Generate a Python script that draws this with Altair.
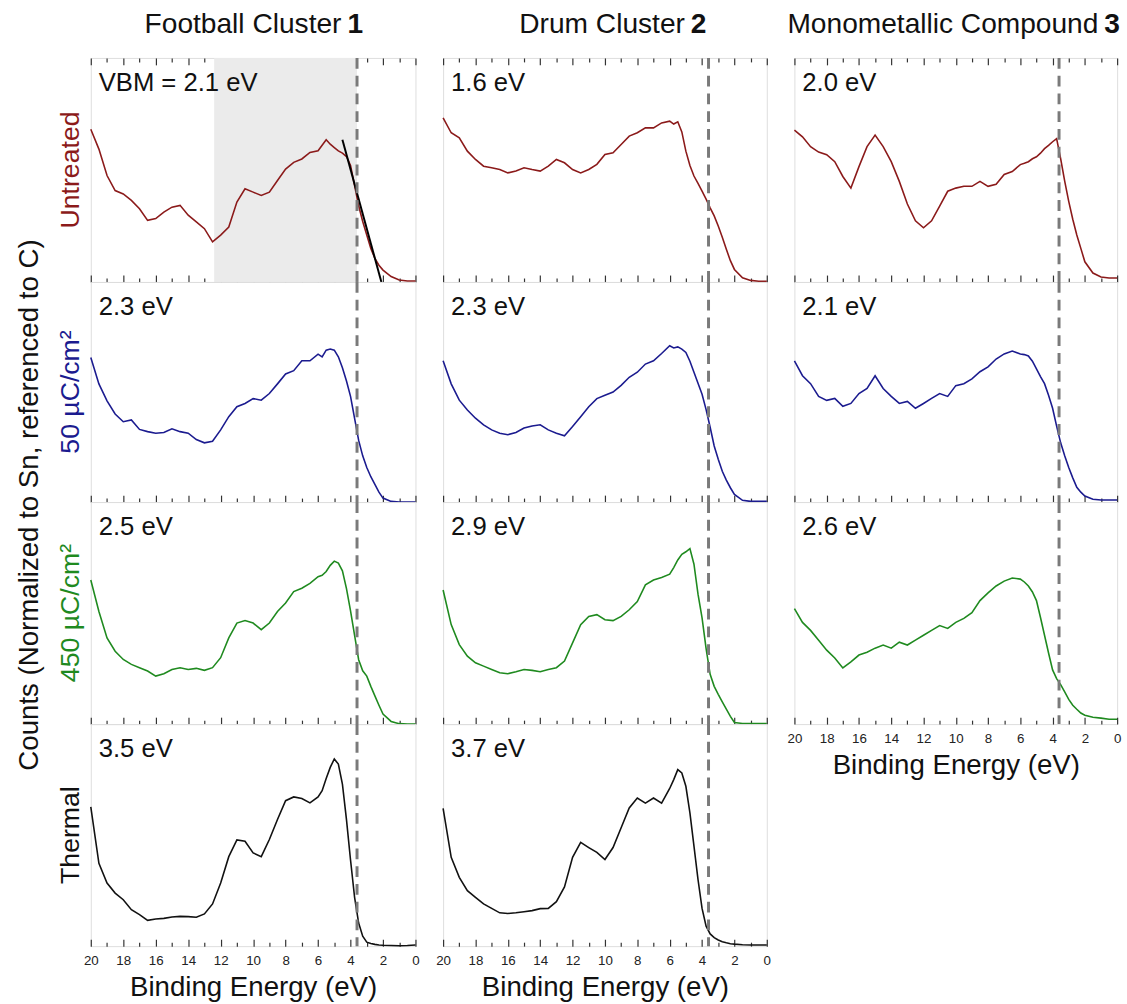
import altair as alt
import pandas as pd

# ---------------- data ----------------
energy = [20, 19.5, 19, 18.5, 18, 17.5, 17, 16.5, 16, 15.5, 15, 14.5, 14, 13.5, 13, 12.5,
          12, 11.5, 11, 10.5, 10, 9.5, 9, 8.5, 8, 7.5, 7, 6.5,
          6, 5.75, 5.5, 5.25, 5, 4.75, 4.5, 4.25, 4, 3.75, 3.5, 3.25, 3, 2.75, 2.5, 2.25,
          2, 1.5, 1, 0.5, 0]

football_untreated = [68.2, 59.3, 47.5, 40.8, 39.3, 36.4, 32.7, 27.5, 28.3, 31.2, 33.4, 34.2, 29.8, 26.8, 23.8, 17.9,
                      20.9, 24.5, 35.7, 41.6, 40.1, 38.6, 40.1, 45.3, 50.4, 53.4, 54.9, 57.8,
                      58.6, 61, 63.5, 61.5, 60, 58.5, 57.5, 56, 52, 43, 34, 27, 21, 15, 10.5, 7.5,
                      5.3, 2.4, 0.9, 0.4, 0.4]
football_50 = [65.7, 53.7, 46, 40, 36.5, 37.3, 33, 32, 31.3, 31.6, 33.3, 32, 31.3, 28.4, 26.9, 27.6,
               32.8, 38.8, 43.3, 44.8, 47, 46.3, 49.3, 53.7, 58.2, 59.7, 64.2, 64.2,
               67.2, 66, 69, 69.5, 69, 66, 61, 55, 48, 38, 28, 21, 15.7, 11.5, 8, 4.5,
               1.8, 0.3, 0, 0, 0]
football_450 = [64.9, 50.7, 38.8, 32.8, 29.1, 26.9, 25.4, 23.9, 21.6, 22.7, 24.6, 25.4, 24.6, 25.1, 24.2, 25.4,
                29.9, 38.8, 45.5, 46.6, 45.5, 42.5, 45.5, 50.7, 54.5, 59.7, 61.2, 63.4,
                66.4, 67, 68.7, 71.5, 73.4, 72.5, 69, 61, 51, 40, 29, 24, 21.6, 17, 12.7, 8.5,
                4.5, 1.2, 0.2, 0, 0]
football_thermal = [62.7, 37.3, 28.4, 23.9, 20.9, 16.4, 14.2, 11.6, 12.2, 12.5, 13.1, 13.4, 13.3, 13, 14.5, 19,
                    28.4, 40.3, 47.8, 47.2, 42, 40.3, 48, 57, 65.5, 67.2, 66.5, 64.5,
                    67.2, 70, 75.5, 80.5, 84.3, 82, 73, 57, 38.8, 22, 10.4, 4.5, 1.8, 1.2, 0.8, 0.5,
                    0.4, 0.3, 0.2, 0.3, 0.5]

drum_untreated = [73.3, 66.6, 64.3, 58.4, 54.7, 51.7, 51, 50.2, 48.7, 49.5, 51, 50.2, 49.5, 51.7, 54.7, 53.2,
                  50.2, 48.7, 50.2, 52.5, 56.9, 57.7, 61.4, 65.1, 66.6, 68.8, 68.8, 71,
                  71.8, 70.5, 71.5, 67, 58.4, 52, 47.3, 44, 40.6, 37, 33.1, 29.5, 25, 20, 14.6, 9.5,
                  5.6, 1.9, 0.7, 0.3, 0.3]
drum_50 = [64.2, 53.7, 46.3, 41.8, 38.1, 35.1, 32.8, 31.3, 30.6, 31.6, 33.6, 34.6, 35.1, 32.8, 31.3, 30.1,
           34.3, 38.8, 43.3, 47, 48.5, 50, 53, 56.7, 59, 62.7, 64.2, 67.5,
           71, 70, 70.5, 69.5, 68, 64, 59, 54, 49, 42, 34, 25.5, 19.4, 14, 10, 6.5,
           3.5, 0.8, 0.3, 0.3, 0.3]
drum_450 = [60.4, 44.8, 35.8, 30.6, 27.6, 26.1, 24.6, 23.1, 22.7, 23.6, 24.6, 24.2, 23.6, 24.6, 25.4, 28.4,
            36.6, 44.8, 48.5, 49.3, 47, 46.6, 48.5, 51.5, 55.2, 62.7, 64.9, 66,
            67.5, 70.5, 73.9, 76.5, 77.6, 79, 72, 58.5, 47.8, 34, 22.4, 17, 13.4, 10, 6.7, 3.5,
            0.7, 0.3, 0.3, 0.3, 0.3]
drum_thermal = [62, 40, 31, 25, 22, 19, 17, 15, 14.7, 15, 15.5, 16, 16.9, 17, 20, 26.7,
                40, 46.7, 44.4, 42.2, 39, 44.4, 53.3, 62.2, 66.7, 64.4, 66.7, 64.4,
                71, 75, 79.5, 78, 72, 60, 45, 30, 17, 9, 5.5, 3.8, 2.8, 2, 1.5, 1.1,
                0.9, 0.6, 0.5, 0.5, 0.5]

mono_untreated = [67.8, 64.8, 60.4, 58, 56.8, 53.7, 47.1, 41.9, 51.5, 60.4, 65.6, 60.4, 53.7, 44.9, 34.8, 27.3,
                  24.2, 27.3, 33.9, 40.5, 41.9, 42.7, 42.7, 44.9, 42.7, 43.6, 48, 49.3,
                  52.4, 53, 53.7, 55, 55.9, 57.5, 59.5, 61, 62.6, 64, 55, 45, 36, 28, 21, 15,
                  9, 4, 2.2, 1.8, 1.8]
mono_50 = [64.1, 57.4, 53.8, 48, 46.2, 47.1, 43.5, 44.8, 49.3, 51.6, 57.4, 51.6, 48, 44.8, 45.7, 42.6,
           44.8, 47.1, 49.3, 48, 52.9, 53.8, 56, 59.2, 61.4, 65, 67.3, 68.6,
           67.3, 67, 66.4, 64, 60.5, 57, 53.8, 48.5, 42.6, 34.5, 26.9, 21, 15.7, 11, 6.7, 4.5,
           2.7, 1.3, 0.9, 0.9, 0.9]
mono_450 = [52, 45.8, 42.2, 37.8, 33.3, 29.8, 25.3, 28, 31.1, 32.4, 34.2, 35.6, 34.2, 36.9, 35.6, 37.8,
            40, 42.2, 44.4, 43.1, 45.8, 47.6, 50.2, 55.6, 59.1, 62.2, 64.4, 65.8,
            65.3, 64, 62.2, 59.5, 55.6, 48, 40, 32, 24.4, 20.5, 17.8, 14.5, 11.1, 8.5, 6.7, 5,
            4, 3.1, 2.7, 2.2, 2.2]

football_labels = ["VBM = 2.1 eV", "2.3 eV", "2.5 eV", "3.5 eV"]
drum_labels = ["1.6 eV", "2.3 eV", "2.9 eV", "3.7 eV"]
mono_labels = ["2.0 eV", "2.1 eV", "2.6 eV"]

row_labels = ["Untreated", "50 µC/cm²", "450 µC/cm²", "Thermal"]
column_titles = [("Football Cluster", "1"), ("Drum Cluster", "2"), ("Monometallic Compound", "3")]

ref_line = [3.6]
shade_start = [12.4]
shade_end = [3.6]
tangent_energy = [4.5, 2.1]
tangent_counts = [63.5, 0]

major_ticks = [0, 2, 4, 6, 8, 10, 12, 14, 16, 18, 20]
minor_ticks = [1, 3, 5, 7, 9, 11, 13, 15, 17, 19]

# ---------------- style ----------------
FONT = "Liberation Sans"
RED = "#8b1a1a"
BLUE = "#1b1b8f"
GREEN = "#1f8a1f"
BLACK = "#111111"
row_colors = [RED, BLUE, GREEN, BLACK]
row_heights = [227, 223, 225, 225]
col_widths = [329, 328, 327]
AX = "#333333"
title_split = [(254, 260), (245, 251), (308, 314)]

xs = alt.Scale(domain=[0, 20], reverse=True, nice=False, zero=False)
ys = alt.Scale(domain=[0, 100], nice=False, zero=False)


def major_axis(orient, labels_on):
    kw = dict(orient=orient, values=major_ticks, tickSize=7, offset=-7, domain=False, grid=False,
              tickColor=AX, tickWidth=1.2, labels=labels_on)
    if labels_on:
        kw.update(title="Binding Energy (eV)", labelFontSize=13.5, labelPadding=8, labelFlush=False,
                  labelFont=FONT, labelColor="#222222", titleFont=FONT, titleFontSize=28,
                  titleFontWeight="normal", titleColor="#111111", titlePadding=7)
    else:
        kw.update(title=None)
    return alt.Axis(**kw)


def minor_axis(orient):
    return alt.Axis(orient=orient, values=minor_ticks, tickSize=4, offset=-4, domain=False, grid=False,
                    tickColor=AX, tickWidth=1.2, labels=False, title=None)


def panel(values, color, label, h, w, top=False, bottom=False, row_label=None, row_color=None,
          title=None, split=None, shade=False, tangent=False, counts=False):
    df = pd.DataFrame({"E": energy, "C": values})
    yenc = alt.Y("C:Q", scale=ys, axis=None)
    layers = []
    if shade:
        sdf = pd.DataFrame({"E0": shade_start, "E1": shade_end})
        layers.append(alt.Chart(sdf).mark_rect(color="#ebebeb").encode(
            x=alt.X("E0:Q", scale=xs, axis=None), x2="E1:Q", y=alt.value(0), y2=alt.value(h)))
    layers.append(alt.Chart(df).mark_line(color=color, strokeWidth=1.6).encode(
        x=alt.X("E:Q", scale=xs, axis=major_axis("bottom", bottom)), y=yenc))
    if tangent:
        tdf = pd.DataFrame({"E": tangent_energy, "C": tangent_counts})
        layers.append(alt.Chart(tdf).mark_line(color="#000000", strokeWidth=2).encode(
            x=alt.X("E:Q", scale=xs, axis=None), y=yenc))
    layers.append(alt.Chart(pd.DataFrame({"E": ref_line})).mark_rule(
        color="#7a7a7a", strokeWidth=3, strokeDash=[11, 7]).encode(
        x=alt.X("E:Q", scale=xs, axis=minor_axis("bottom")), y=alt.value(0), y2=alt.value(h)))
    if top:
        layers.append(alt.Chart(df).mark_point(opacity=0, size=1).encode(
            x=alt.X("E:Q", scale=xs, axis=major_axis("top", False)), y=yenc))
        layers.append(alt.Chart(df).mark_point(opacity=0, size=1).encode(
            x=alt.X("E:Q", scale=xs, axis=minor_axis("top")), y=yenc))
    layers.append(alt.Chart(pd.DataFrame({"t": [label]})).mark_text(
        align="left", baseline="middle", font=FONT, fontSize=26, color="#111111").encode(
        x=alt.value(8), y=alt.value(25), text="t:N"))
    if row_label is not None:
        layers.append(alt.Chart(pd.DataFrame({"t": [row_label]})).mark_text(
            align="center", baseline="middle", angle=270, font=FONT, fontSize=27, color=row_color).encode(
            x=alt.value(-20), y=alt.value(h / 2), text="t:N"))
    if counts:
        layers.append(alt.Chart(pd.DataFrame({"t": ["Counts (Normalized to Sn, referenced to C)"]})).mark_text(
            align="center", baseline="middle", angle=270, font=FONT, fontSize=28, color="#111111").encode(
            x=alt.value(-61), y=alt.value(h + 3), text="t:N"))
    if title is not None:
        layers.append(alt.Chart(pd.DataFrame({"t": [title[0]]})).mark_text(
            align="right", baseline="alphabetic", font=FONT, fontSize=28.5, color="#111111").encode(
            x=alt.value(split[0]), y=alt.value(-25), text="t:N"))
        layers.append(alt.Chart(pd.DataFrame({"t": [title[1]]})).mark_text(
            align="left", baseline="alphabetic", font=FONT, fontSize=28.5, fontWeight="bold",
            color="#111111").encode(
            x=alt.value(split[1]), y=alt.value(-25), text="t:N"))
    return alt.layer(*layers).resolve_axis(x="independent").properties(width=w, height=h)


football = [football_untreated, football_50, football_450, football_thermal]
drum = [drum_untreated, drum_50, drum_450, drum_thermal]
mono = [mono_untreated, mono_50, mono_450]

col1 = []
for i in range(4):
    col1.append(panel(football[i], row_colors[i], football_labels[i], row_heights[i], col_widths[0],
                      top=(i == 0), bottom=(i == 3), row_label=row_labels[i], row_color=row_colors[i],
                      title=column_titles[0] if i == 0 else None, split=title_split[0],
                      shade=(i == 0), tangent=(i == 0), counts=(i == 1)))
col2 = []
for i in range(4):
    col2.append(panel(drum[i], row_colors[i], drum_labels[i], row_heights[i], col_widths[1],
                      top=(i == 0), bottom=(i == 3),
                      title=column_titles[1] if i == 0 else None, split=title_split[1]))
col3 = []
for i in range(3):
    col3.append(panel(mono[i], row_colors[i], mono_labels[i], row_heights[i], col_widths[2],
                      top=(i == 0), bottom=(i == 2),
                      title=column_titles[2] if i == 0 else None, split=title_split[2]))

chart = alt.hconcat(
    alt.vconcat(*col1, spacing=0, bounds="flush"),
    alt.vconcat(*col2, spacing=0, bounds="flush"),
    alt.vconcat(*col3, spacing=0, bounds="flush"),
    spacing=14,
).properties(
    padding={"left": 16, "top": 3, "right": 5, "bottom": 2}
).configure_view(
    stroke="#3a3a3a", strokeWidth=1.2
).configure(font=FONT, background="white")

chart.save("out.html", embed_options={"renderer": "svg", "actions": False})
